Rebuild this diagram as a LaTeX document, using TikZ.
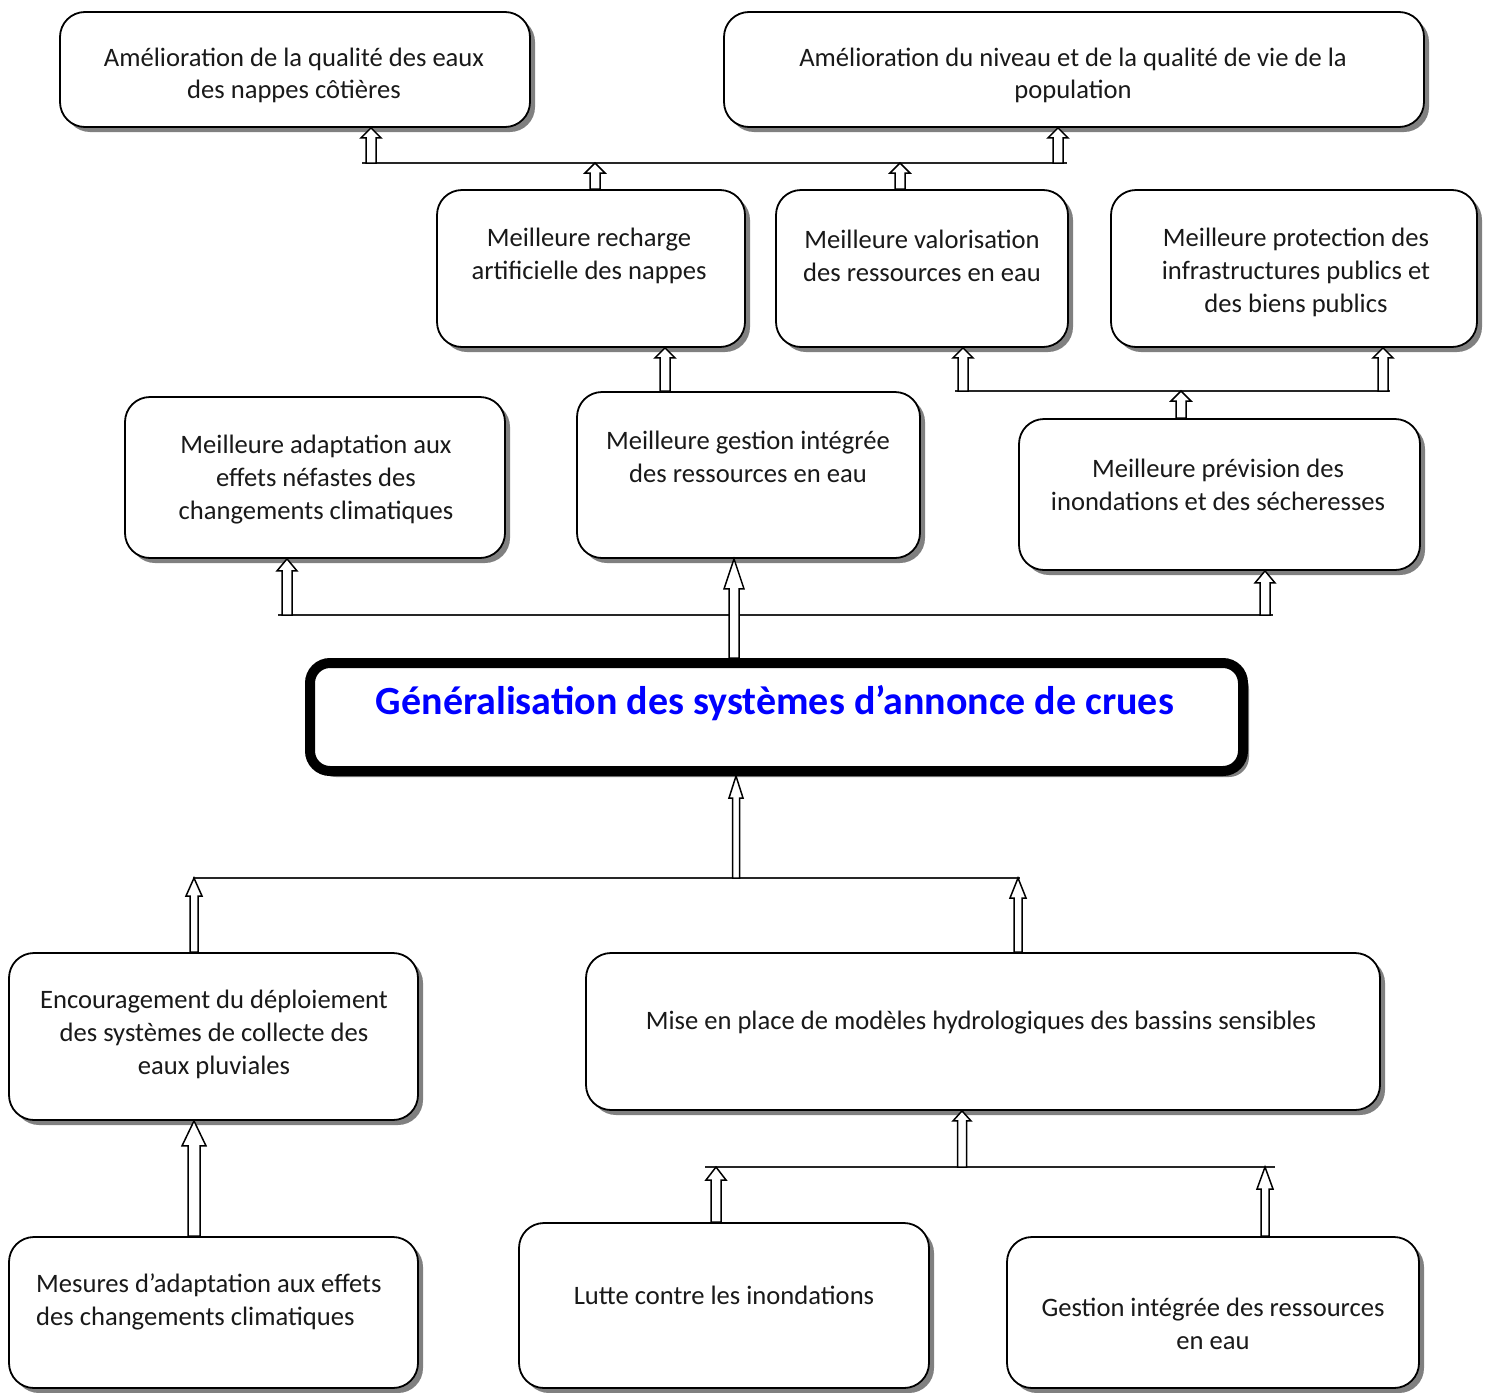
\documentclass[tikz,border=0pt]{standalone}
\usepackage{fontspec}
\setmainfont{Carlito}
\usetikzlibrary{shadows,calc}
\definecolor{titleblue}{RGB}{0,0,255}
\definecolor{shadowgray}{RGB}{128,128,128}
\tikzset{
  box/.style={draw, line width=1.8pt, rounded corners=25pt, fill=white, inner sep=0pt,
    drop shadow={shadow xshift=5pt, shadow yshift=-5pt, fill=shadowgray, opacity=1}},
  mainbox/.style={draw, line width=10pt, rounded corners=20pt, fill=white, inner sep=0pt,
    drop shadow={shadow xshift=6pt, shadow yshift=-6pt, fill=shadowgray, opacity=1}},
  txt/.style={inner sep=0pt, align=center, yshift=-2pt, font=\fontsize{26.6}{32.8}\selectfont, text=black!90},
  bus/.style={line width=1.6pt, draw=black!85},
  blkarrow/.style={draw=black, fill=white, line width=1.5pt, line join=miter}
}
% block arrow from #1 (base) up to #2 (tip); shaft half width, head half width, head length
\newcommand\blk[5]{\draw[blkarrow] let \p1=(#1), \p2=(#2) in
  (\x1-#3pt,\y1) -- (\x1-#3pt,\y2-#5pt) -- (\x1-#4pt,\y2-#5pt) -- (\x1,\y2) --
  (\x1+#4pt,\y2-#5pt) -- (\x1+#3pt,\y2-#5pt) -- (\x1+#3pt,\y1) -- cycle;}
\begin{document}
\begin{tikzpicture}[x=1pt,y=-1pt]
\useasboundingbox (0,0) rectangle (1490,1392);

% boxes
\node[box, minimum width=470, minimum height=115] (A1) at (295,69.5) {};
\node[box, minimum width=700, minimum height=115] (A2) at (1074,69.5) {};
\node[box, minimum width=308, minimum height=157] (B1) at (591,268.5) {};
\node[box, minimum width=292, minimum height=157] (B2) at (922,268.5) {};
\node[box, minimum width=366, minimum height=157] (B3) at (1294,268.5) {};
\node[box, minimum width=380, minimum height=161] (C1) at (315,477.5) {};
\node[box, minimum width=343, minimum height=166] (C2) at (748.5,475) {};
\node[box, minimum width=401, minimum height=151] (C3) at (1219.5,494.5) {};
\node[mainbox, minimum width=933, minimum height=108] (M) at (776.5,717) {};
\node[box, minimum width=409, minimum height=167] (D1) at (213.5,1036.5) {};
\node[box, minimum width=794, minimum height=157] (D2) at (983,1031.5) {};
\node[box, minimum width=409, minimum height=151] (E1) at (213.5,1312.5) {};
\node[box, minimum width=410, minimum height=165] (E2) at (724,1305.5) {};
\node[box, minimum width=412, minimum height=151] (E3) at (1213,1312.5) {};

% texts
\node[txt] (tA1) at (294,73.5) {Amélioration de la qualité des eaux\\des nappes côtières};
\node[txt] (tA2) at (1073,73.5) {Amélioration du niveau et de la qualité de vie de la\\population};
\node[txt] (tB1) at (589,254) {Meilleure recharge\\artificielle des nappes};
\node[txt] (tB2) at (922,254) {Meilleure valorisation\\des ressources en eau};
\node[txt] (tB3) at (1296,270.5) {Meilleure protection des\\infrastructures publics et\\des biens publics};
\node[txt] (tC1) at (316,477.5) {Meilleure adaptation aux\\effets néfastes des\\changements climatiques};
\node[txt] (tC2) at (748,455) {Meilleure gestion intégrée\\des ressources en eau};
\node[txt] (tC3) at (1218,482.5) {Meilleure prévision des\\inondations et des sécheresses};
\node[inner sep=0pt, text=titleblue, font=\fontsize{40}{46}\selectfont\bfseries] (tM) at (775,703) {Généralisation des systèmes d’annonce de crues};
\node[txt] (tD1) at (214,1032.5) {Encouragement du déploiement\\des systèmes de collecte des\\eaux pluviales};
\node[txt] (tD2) at (981,1021) {Mise en place de modèles hydrologiques des bassins sensibles};
\node[txt, align=left, anchor=west] (tE1) at (36,1299.5) {Mesures d’adaptation aux effets\\des changements climatiques};
\node[txt] (tE2) at (724,1293) {Lutte contre les inondations};
\node[txt] (tE3) at (1213,1322) {Gestion intégrée des ressources\\en eau};

% bus coordinates
\coordinate (tL) at (362,163);  \coordinate (tR) at (1067,163);
\coordinate (bL) at (955,391);  \coordinate (bR) at (1390,391);
\coordinate (cL) at (278,615);  \coordinate (cR) at (1273,615);
\coordinate (dL) at (193,878);  \coordinate (dR) at (1020,878);
\coordinate (eL) at (705,1167); \coordinate (eR) at (1275,1167);
\draw[bus] (tL) -- (tR);
\draw[bus] (bL) -- (bR);
\draw[bus] (cL) -- (cR);
\draw[bus] (dL) -- (dR);
\draw[bus] (eL) -- (eR);

% arrow base coordinates
\coordinate (a1) at (371,163);
\coordinate (a2) at (1058,163);
\coordinate (a6) at (963,391);
\coordinate (a7) at (1383,391);
\coordinate (a9) at (287,615);
\coordinate (a10) at (1265,615);
\coordinate (a12) at (736,878);
\coordinate (a16) at (962,1167);

% arrows
\blk{a1}{a1 |- A1.south}{5}{10}{10}
\blk{a2}{a2 |- A2.south}{5}{10}{10}
\blk{595,0 |- B1.north}{595,0 |- tL}{5}{10}{10}
\blk{900,0 |- B2.north}{900,0 |- tL}{5}{10}{10}
\blk{665,0 |- C2.north}{665,0 |- B1.south}{5}{10}{10}
\blk{a6}{a6 |- B2.south}{5}{10}{10}
\blk{a7}{a7 |- B3.south}{5}{10}{10}
\blk{1181,0 |- C3.north}{1181,0 |- bL}{5}{10}{10}
\blk{a9}{a9 |- C1.south}{5}{10}{12}
\blk{a10}{a10 |- C3.south}{5}{10}{12}
\blk{734,0 |- M.north}{734,0 |- C2.south}{5}{10}{30}
\blk{a12}{a12 |- M.south}{3.5}{7}{22}
\blk{194,0 |- D1.north}{194,0 |- dL}{4}{8}{18}
\blk{1018,0 |- D2.north}{1018,0 |- dL}{4}{8}{20}
\blk{194,0 |- E1.north}{194,0 |- D1.south}{6}{12}{25}
\blk{a16}{a16 |- D2.south}{4.5}{9}{10}
\blk{716,0 |- E2.north}{716,0 |- eL}{5}{10}{13}
\blk{1265,0 |- E3.north}{1265,0 |- eL}{4}{8}{22}
\end{tikzpicture}
\end{document}
